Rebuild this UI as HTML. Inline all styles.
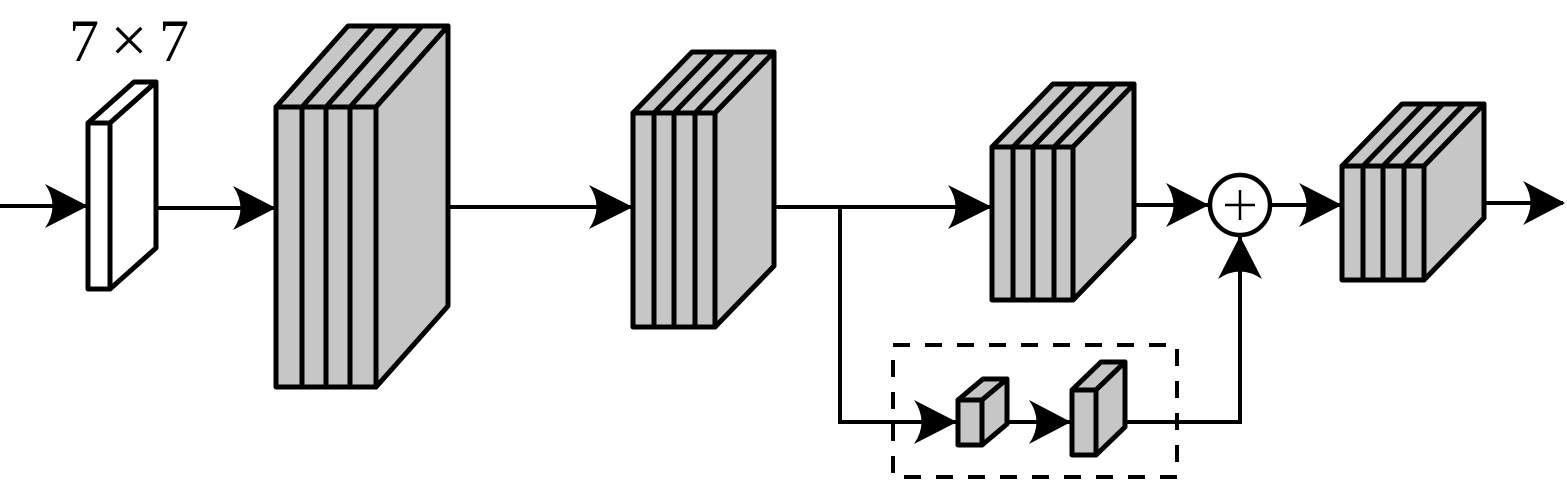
<!DOCTYPE html>
<html>
<head>
<meta charset="utf-8">
<style>
  html, body { margin: 0; padding: 0; background: #ffffff; }
  body { width: 1567px; height: 480px; overflow: hidden; }
  svg { display: block; }
</style>
</head>
<body>
<svg width="1567" height="480" viewBox="0 0 1567 480" xmlns="http://www.w3.org/2000/svg">
  <rect x="0" y="0" width="1567" height="480" fill="#ffffff"/>

  <!-- connectors -->
  <g stroke="#000" stroke-width="4" fill="none" stroke-linecap="butt">
    <line x1="0" y1="206" x2="88" y2="206"/>
    <line x1="156" y1="208" x2="276" y2="208"/>
    <line x1="448" y1="207" x2="633" y2="207"/>
    <line x1="774" y1="207" x2="992" y2="207"/>
    <polyline points="840,207 840,422 958,422"/>
    <line x1="1007" y1="422" x2="1072" y2="422"/>
    <polyline points="1125,422 1240,422 1240,237"/>
    <line x1="1134" y1="205" x2="1210" y2="205"/>
    <line x1="1270" y1="205" x2="1342" y2="205"/>
    <line x1="1484" y1="203" x2="1563" y2="203"/>
  </g>

  <!-- dashed box -->
  <rect x="893" y="345" width="284" height="132" fill="none" stroke="#000" stroke-width="4" stroke-dasharray="17 15"/>

  <!-- block 1 (white) -->
  <g stroke="#000" stroke-width="5" stroke-linejoin="round" fill="#ffffff">
    <polygon points="88,123 134,82 156,82 110,123"/>
    <polygon points="110,123 156,82 156,248 110,289"/>
    <rect x="88" y="123" width="22" height="166"/>
  </g>

  <!-- block 2 -->
  <g stroke="#000" stroke-width="5" stroke-linejoin="round" fill="#c6c6c6">
    <polygon points="276,107 348,26 448,26 376,107"/>
    <polygon points="376,107 448,26 448,306 376,387"/>
    <rect x="276" y="107" width="100" height="280"/>
    <line x1="302" y1="107" x2="302" y2="387"/>
    <line x1="326" y1="107" x2="326" y2="387"/>
    <line x1="350" y1="107" x2="350" y2="387"/>
    <line x1="302" y1="107" x2="374" y2="26"/>
    <line x1="326" y1="107" x2="398" y2="26"/>
    <line x1="350" y1="107" x2="422" y2="26"/>
  </g>

  <!-- block 3 -->
  <g stroke="#000" stroke-width="5" stroke-linejoin="round" fill="#c6c6c6">
    <polygon points="633,113 692,52 774,52 715,113"/>
    <polygon points="715,113 774,52 774,266 715,327"/>
    <rect x="633" y="113" width="82" height="214"/>
    <line x1="654" y1="113" x2="654" y2="327"/>
    <line x1="674" y1="113" x2="674" y2="327"/>
    <line x1="695" y1="113" x2="695" y2="327"/>
    <line x1="654" y1="113" x2="713" y2="52"/>
    <line x1="674" y1="113" x2="733" y2="52"/>
    <line x1="695" y1="113" x2="754" y2="52"/>
  </g>

  <!-- block 4 -->
  <g stroke="#000" stroke-width="5" stroke-linejoin="round" fill="#c6c6c6">
    <polygon points="992,147 1053,84 1134,84 1073,147"/>
    <polygon points="1073,147 1134,84 1134,237 1073,300"/>
    <rect x="992" y="147" width="81" height="153"/>
    <line x1="1013" y1="147" x2="1013" y2="300"/>
    <line x1="1033" y1="147" x2="1033" y2="300"/>
    <line x1="1054" y1="147" x2="1054" y2="300"/>
    <line x1="1013" y1="147" x2="1074" y2="84"/>
    <line x1="1033" y1="147" x2="1094" y2="84"/>
    <line x1="1054" y1="147" x2="1115" y2="84"/>
  </g>

  <!-- block 5 -->
  <g stroke="#000" stroke-width="5" stroke-linejoin="round" fill="#c6c6c6">
    <polygon points="1342,166 1402,104 1484,104 1424,166"/>
    <polygon points="1424,166 1484,104 1484,218 1424,280"/>
    <rect x="1342" y="166" width="82" height="114"/>
    <line x1="1363" y1="166" x2="1363" y2="280"/>
    <line x1="1383" y1="166" x2="1383" y2="280"/>
    <line x1="1404" y1="166" x2="1404" y2="280"/>
    <line x1="1363" y1="166" x2="1423" y2="104"/>
    <line x1="1383" y1="166" x2="1443" y2="104"/>
    <line x1="1404" y1="166" x2="1464" y2="104"/>
  </g>

  <!-- small block A -->
  <g stroke="#000" stroke-width="5" stroke-linejoin="round" fill="#c6c6c6">
    <polygon points="958,400 983,379 1007,379 982,400"/>
    <polygon points="982,400 1007,379 1007,424 982,445"/>
    <rect x="958" y="400" width="24" height="45"/>
  </g>

  <!-- small block B -->
  <g stroke="#000" stroke-width="5" stroke-linejoin="round" fill="#c6c6c6">
    <polygon points="1072,390 1101,362 1125,362 1096,390"/>
    <polygon points="1096,390 1125,362 1125,427 1096,455"/>
    <rect x="1072" y="390" width="24" height="65"/>
  </g>

  <!-- sum node -->
  <circle cx="1240" cy="205" r="30" fill="#ffffff" stroke="#000" stroke-width="4.5"/>
  <g stroke="#000" stroke-width="2.5">
    <line x1="1225" y1="205" x2="1255" y2="205"/>
    <line x1="1240" y1="190" x2="1240" y2="220"/>
  </g>

  <!-- arrowheads -->
  <g fill="#000" stroke="none">
    <path d="M88 206 L45 184 Q60 206 45 228 Z"/>
    <path d="M276 208 L233 186 Q248 208 233 230 Z"/>
    <path d="M633 207 L589 185 Q604 207 589 229 Z"/>
    <path d="M992 207 L948 185 Q963 207 948 229 Z"/>
    <path d="M1209 205 L1166 183 Q1181 205 1166 227 Z"/>
    <path d="M1342 205 L1299 183 Q1314 205 1299 227 Z"/>
    <path d="M1565 203 L1523 181 Q1538 203 1523 225 Z"/>
    <path d="M957 422 L914 400 Q929 422 914 444 Z"/>
    <path d="M1071 422 L1029 400 Q1044 422 1029 444 Z"/>
    <path d="M1240 236 L1218 279 Q1240 264 1262 279 Z"/>
  </g>

  <!-- label -->
  <g font-family="'Liberation Serif', serif" fill="#000">
    <text x="69" y="61" font-size="60">7</text>
    <text x="129" y="62" font-size="66" text-anchor="middle">×</text>
    <text x="159" y="61" font-size="60">7</text>
  </g>
</svg>
</body>
</html>
